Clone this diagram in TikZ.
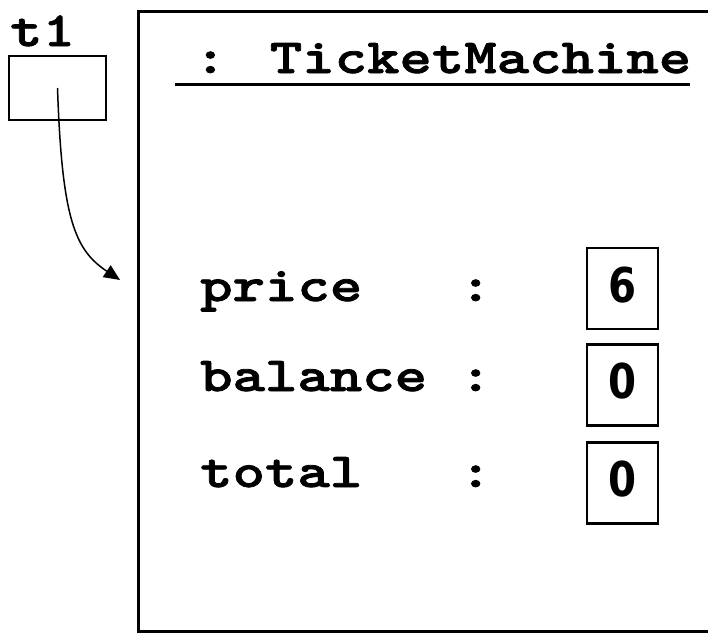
\documentclass[tikz,border=0pt]{standalone}
\usepackage{fontspec}
% slab-serif typewriter face for the code text, widened to a 0.6em pitch
\newfontfamily\codefont{lmmonolt10-bold}[Extension=.otf, FakeStretch=1.26, FakeBold=1.6]
\newfontfamily\digitfont{DejaVu Sans Bold}
\usetikzlibrary{arrows.meta}

\tikzset{
  codetext/.style={font=\codefont\fontsize{49}{54}\selectfont, inner sep=0pt, anchor=base west},
  varbox/.style={draw, line width=1.5pt, minimum width=97pt, minimum height=64pt, inner sep=0pt},
  valbox/.style={draw, line width=2.5pt, minimum width=71pt, minimum height=81pt, inner sep=0pt,
    font=\digitfont\fontsize{48}{50}\selectfont},
  objbox/.style={draw, line width=3pt, minimum width=590pt, minimum height=620pt, inner sep=0pt, anchor=north west},
  refarrow/.style={line width=1.5pt, -{Triangle[length=16pt,width=14pt]}}
}
\newcommand{\valtext}[1]{\raisebox{8pt}{\scalebox{0.84}[1]{#1}}}

\begin{document}
\begin{tikzpicture}[x=1pt, y=-1pt]
  \useasboundingbox (0,0) rectangle (708,632);
  \clip (0,0) rectangle (708,632);

  % reference variable t1
  \node[codetext] (t1name) at (10,46) {t1};
  \node[varbox] (t1box) at (57.5,88) {};

  % the TicketMachine object
  \node[objbox] (obj) at (137,10) {};
  \node[codetext] (title) at (194,73) {: TicketMachine};
  \draw[line width=3pt] ([xshift=-19pt,yshift=-11pt]title.base west) -- ([xshift=-1pt,yshift=-11pt]title.base east);

  % fields
  \node[codetext] (fprice) at (200,301) {price\ \ \ :};
  \node[codetext] (fbalance) at (200,391) {balance\ :};
  \node[codetext] (ftotal) at (200,487) {total\ \ \ :};

  \node[valbox] (vprice) at (622.5,288.5) {\valtext{6}};
  \node[valbox] (vbalance) at (622.5,385) {\valtext{0}};
  \node[valbox] (vtotal) at (622.5,483) {\valtext{0}};

  % reference from t1 to the object
  \coordinate (target) at (120,280);
  \draw[refarrow] (t1box.center) .. controls (62,220) and (75,250) .. (target);
\end{tikzpicture}
\end{document}
